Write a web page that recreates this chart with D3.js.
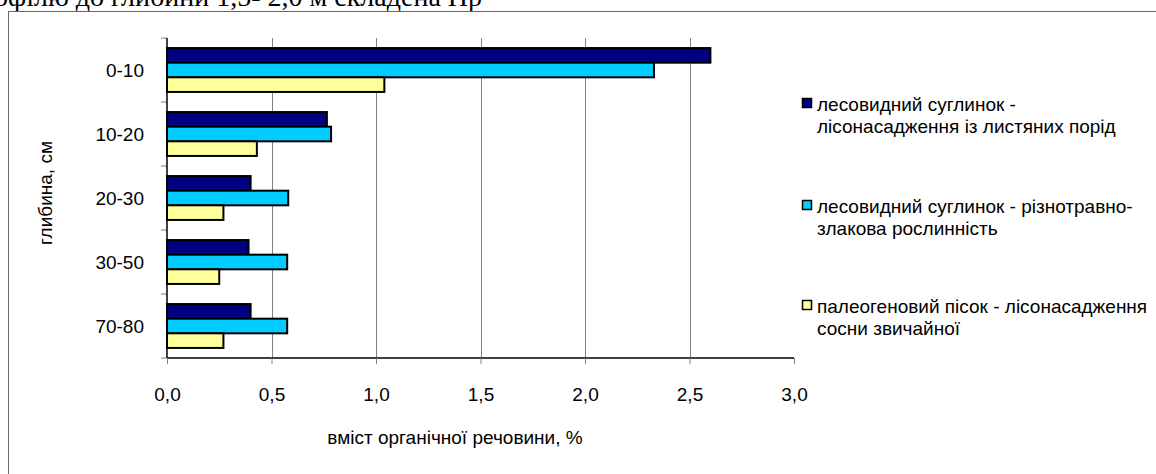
<!DOCTYPE html>
<html><head><meta charset="utf-8">
<script src="https://cdn.jsdelivr.net/npm/d3@7"></script>
<style>
html,body{margin:0;padding:0;background:#fff;}
svg{display:block;}
text{font-family:"Liberation Sans",Arial,sans-serif;fill:#000;}
</style></head>
<body>
<svg id="c" width="1156" height="474"></svg>
<script>
const categories = ["0-10","10-20","20-30","30-50","70-80"];
const seriesNames = [
  ["лесовидний суглинок -","лісонасадження із листяних порід"],
  ["лесовидний суглинок - різнотравно-","злакова рослинність"],
  ["палеогеновий пісок - лісонасадження","сосни звичайної"]
];
const loamForest = [2.60, 0.765, 0.40, 0.39, 0.40];
const loamGrass  = [2.33, 0.785, 0.58, 0.575, 0.575];
const sandPine   = [1.04, 0.43, 0.27, 0.25, 0.27];
const seriesColors = ["#000080","#00CCFF","#FFFF99"];
const xTicks = [0,0.5,1,1.5,2,2.5,3];
const xTitle = "вміст органічної речовини, %";
const yTitle = "глибина, см";
const topText = "офілю до глибини 1,5- 2,0 м складена Нр";

const series = [loamForest, loamGrass, sandPine];
const svg = d3.select("#c");
const pL = 167, pR = 794, pT = 38, pB = 358;

// page text above the chart frame
svg.append("text").attr("x",-6).attr("y",6)
  .style("font-family","'Liberation Serif','Times New Roman',serif").style("font-size","28px")
  .text(topText);

// chart frame
svg.append("rect").attr("x",8.5).attr("y",11.5).attr("width",1200).attr("height",500)
  .attr("fill","none").attr("stroke","#666").attr("stroke-width",1);

const x = d3.scaleLinear().domain([0,3]).range([pL,pR]);
const y = d3.scaleBand().domain(categories).range([pT,pB]).paddingInner(0.314).paddingOuter(0.157);
const yInner = d3.scaleBand().domain([0,1,2]).range([0,y.bandwidth()]);

// gridlines
svg.append("g").selectAll("line").data(xTicks.slice(1,-1)).join("line")
  .attr("x1",d=>Math.round(x(d))+0.5).attr("x2",d=>Math.round(x(d))+0.5)
  .attr("y1",pT).attr("y2",pB).attr("stroke","#808080").attr("stroke-width",1);

// bars
const g = svg.append("g");
series.forEach((vals,si)=>{
  g.selectAll(null).data(vals).join("rect")
    .attr("x",x(0))
    .attr("y",(d,i)=>y(categories[i])+yInner(si))
    .attr("width",d=>x(d)-x(0))
    .attr("height",yInner.bandwidth())
    .attr("fill",seriesColors[si]).attr("stroke","#000").attr("stroke-width",2);
});

// x axis
const xAxis = d3.axisBottom(x).tickValues(xTicks).tickSize(6).tickPadding(24)
  .tickFormat(d=>d3.format(".1f")(d).replace(".",","));
const gx = svg.append("g").attr("transform",`translate(0,${pB})`).call(xAxis);
gx.select(".domain").attr("stroke","#000").attr("stroke-width",1.5).attr("d",`M${pL},0H${pR}`);
gx.selectAll(".tick line").attr("stroke","#808080");
gx.selectAll(".tick text").style("font-size","19px").style("font-family","'Liberation Sans',Arial,sans-serif").attr("fill","#000");

// y axis: ticks at category boundaries
const bounds = d3.range(categories.length+1).map(i=>pT+i*(pB-pT)/categories.length);
svg.append("g").selectAll("line").data(bounds).join("line")
  .attr("x1",pL-6).attr("x2",pL).attr("y1",d=>d).attr("y2",d=>d)
  .attr("stroke","#808080");
svg.append("line").attr("x1",pL).attr("x2",pL).attr("y1",pT).attr("y2",pB)
  .attr("stroke","#000").attr("stroke-width",1.5);
svg.append("g").selectAll("text").data(categories).join("text")
  .attr("x",144).attr("y",d=>y(d)+y.bandwidth()/2).attr("dy","0.35em")
  .attr("text-anchor","end").style("font-size","19px").text(d=>d);

// axis titles
svg.append("text").attr("x",455).attr("y",444).attr("text-anchor","middle")
  .style("font-size","19px").text(xTitle);
svg.append("text").attr("transform","translate(52,193) rotate(-90)").attr("text-anchor","middle")
  .style("font-size","19px").text(yTitle);

// legend
const legendY = [104,206,306];
const lg = svg.append("g");
seriesNames.forEach((lines,i)=>{
  lg.append("rect").attr("x",802.5).attr("y",legendY[i]-5.5).attr("width",9).attr("height",9)
    .attr("fill",seriesColors[i]).attr("stroke","#000").attr("stroke-width",1.5);
  lines.forEach((t,j)=>{
    lg.append("text").attr("x",817).attr("y",legendY[i]+j*22).attr("dy","0.35em")
      .style("font-size","19px").text(t);
  });
});
</script>
</body></html>
